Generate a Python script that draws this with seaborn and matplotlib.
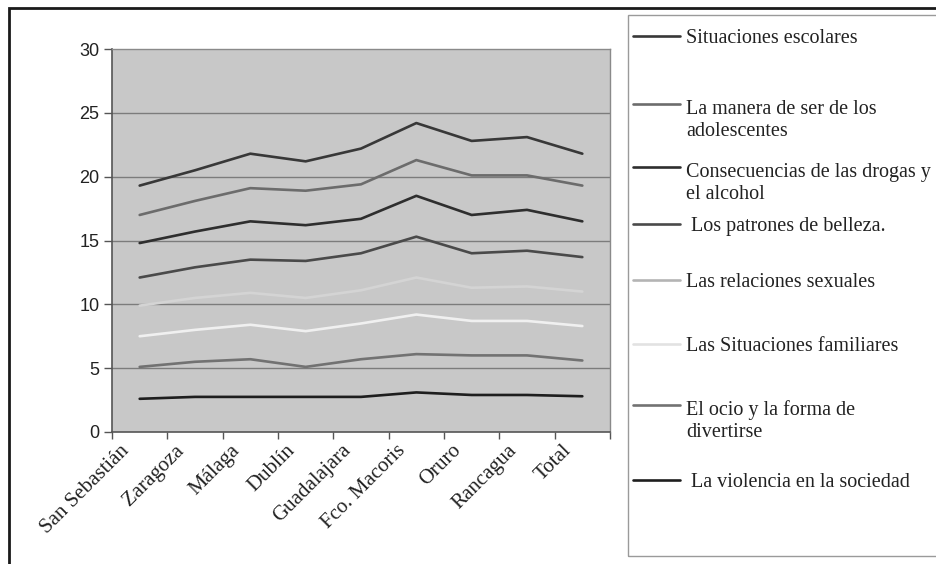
import matplotlib
matplotlib.use("Agg")
import matplotlib.pyplot as plt
from matplotlib.lines import Line2D
from matplotlib.patches import Rectangle
from matplotlib.transforms import ScaledTranslation
import seaborn as sns
import pandas as pd

# ---- data (stacked line levels as drawn in the chart) ----
ciudades = ["San Sebastián", "Zaragoza", "Málaga", "Dublín", "Guadalajara",
            "Fco. Macoris", "Oruro", "Rancagua", "Total"]

series = ["Situaciones escolares",
          "La manera de ser de los\nadolescentes",
          "Consecuencias de las drogas y\nel alcohol",
          " Los patrones de belleza.",
          "Las relaciones sexuales",
          "Las Situaciones familiares",
          "El ocio y la forma de\ndivertirse",
          " La violencia en la sociedad"]

situaciones_escolares = [19.3, 20.5, 21.8, 21.2, 22.2, 24.2, 22.8, 23.1, 21.8]
manera_de_ser = [17.0, 18.1, 19.1, 18.9, 19.4, 21.3, 20.1, 20.1, 19.3]
drogas_alcohol = [14.8, 15.7, 16.5, 16.2, 16.7, 18.5, 17.0, 17.4, 16.5]
patrones_belleza = [12.1, 12.9, 13.5, 13.4, 14.0, 15.3, 14.0, 14.2, 13.7]
relaciones_sexuales = [9.9, 10.5, 10.9, 10.5, 11.1, 12.1, 11.3, 11.4, 11.0]
situaciones_familiares = [7.5, 8.0, 8.4, 7.9, 8.5, 9.2, 8.7, 8.7, 8.3]
ocio = [5.1, 5.5, 5.7, 5.1, 5.7, 6.1, 6.0, 6.0, 5.6]
violencia = [2.6, 2.75, 2.75, 2.75, 2.75, 3.1, 2.9, 2.9, 2.8]

valores = [situaciones_escolares, manera_de_ser, drogas_alcohol, patrones_belleza,
           relaciones_sexuales, situaciones_familiares, ocio, violencia]

colores = ["#383838", "#6c6c6c", "#2e2e2e", "#4a4a4a",
           "#d4d4d4", "#f0f0f0", "#727272", "#1e1e1e"]
colores_leyenda = ["#383838", "#6c6c6c", "#2e2e2e", "#4a4a4a",
                   "#b4b4b4", "#e2e2e2", "#727272", "#1e1e1e"]

yticks = [0, 5, 10, 15, 20, 25, 30]

rows = []
for s, vals in zip(series, valores):
    for c, v in zip(ciudades, vals):
        rows.append({"ciudad": c, "valor": v, "serie": s})
df = pd.DataFrame(rows)

sns.set_theme(style="white")
plt.rcParams["font.family"] = ["Liberation Sans", "DejaVu Sans"]
serif = ["Liberation Serif", "DejaVu Serif"]

W, H = 936, 564
fig = plt.figure(figsize=(W / 100, H / 100), dpi=100)
fig.patch.set_facecolor("white")
ax = fig.add_axes([112 / W, 1 - 432 / H, (610 - 112) / W, (432 - 49) / H])
ax.set_facecolor("#c8c8c8")

sns.lineplot(data=df, x="ciudad", y="valor", hue="serie", hue_order=series,
             palette=colores, linewidth=1.9, legend=False, ax=ax, sort=False)

ax.set_xlim(-0.5, len(ciudades) - 0.5)
ax.set_ylim(0, 30)
ax.set_yticks(yticks)
ax.set_yticklabels([str(t) for t in yticks], fontsize=13, color="#222222")
for y in yticks[1:-1]:
    ax.axhline(y, color="#7c7c7c", linewidth=1.0, zorder=0.5)

ax.set_xticks(range(len(ciudades)))
ax.set_xticks([i - 0.5 for i in range(len(ciudades) + 1)], minor=True)
ax.tick_params(axis="x", which="major", length=0, pad=8)
ax.tick_params(axis="x", which="minor", length=5, width=1, color="#555555",
               direction="out", bottom=True)
ax.tick_params(axis="y", length=6, width=1, color="#555555", direction="out",
               left=True, pad=3)
ax.set_xticklabels(ciudades, rotation=45, ha="right", va="top",
                   rotation_mode="anchor", fontsize=15,
                   family=serif, color="#222222")
offset = ScaledTranslation(-0.20, 0.02, fig.dpi_scale_trans)
for lab in ax.get_xticklabels():
    lab.set_transform(lab.get_transform() + offset)
ax.set_xlabel("")
ax.set_ylabel("")
for side in ["top", "right"]:
    ax.spines[side].set_color("#8a8a8a")
    ax.spines[side].set_linewidth(1.0)
for side in ["left", "bottom"]:
    ax.spines[side].set_color("#555555")
    ax.spines[side].set_linewidth(1.2)

# outer chart frame
fig.add_artist(Rectangle((9 / W, -0.1), 1.2, 1 - 8 / H + 0.1,
                         transform=fig.transFigure, fill=False,
                         edgecolor="#1a1a1a", linewidth=2.0))
# legend box
fig.add_artist(Rectangle((628 / W, 1 - 556 / H), 1.0, (556 - 15) / H,
                         transform=fig.transFigure, fill=False,
                         edgecolor="#9a9a9a", linewidth=1.0))
legend_y = [36, 104, 167, 224, 280, 344, 405, 480]
line_px = 25
for s, col, y in zip(series, colores_leyenda, legend_y):
    fig.add_artist(Line2D([633 / W, 680 / W], [1 - y / H, 1 - y / H],
                          transform=fig.transFigure, color=col, linewidth=1.9))
    n_extra = s.count("\n")
    fig.text(686 / W, 1 - (y + 7 + n_extra * line_px) / H, s, ha="left",
             va="baseline", fontsize=14.5, family=serif, color="#222222",
             linespacing=1.25)

fig.savefig("out.png", dpi=100)
